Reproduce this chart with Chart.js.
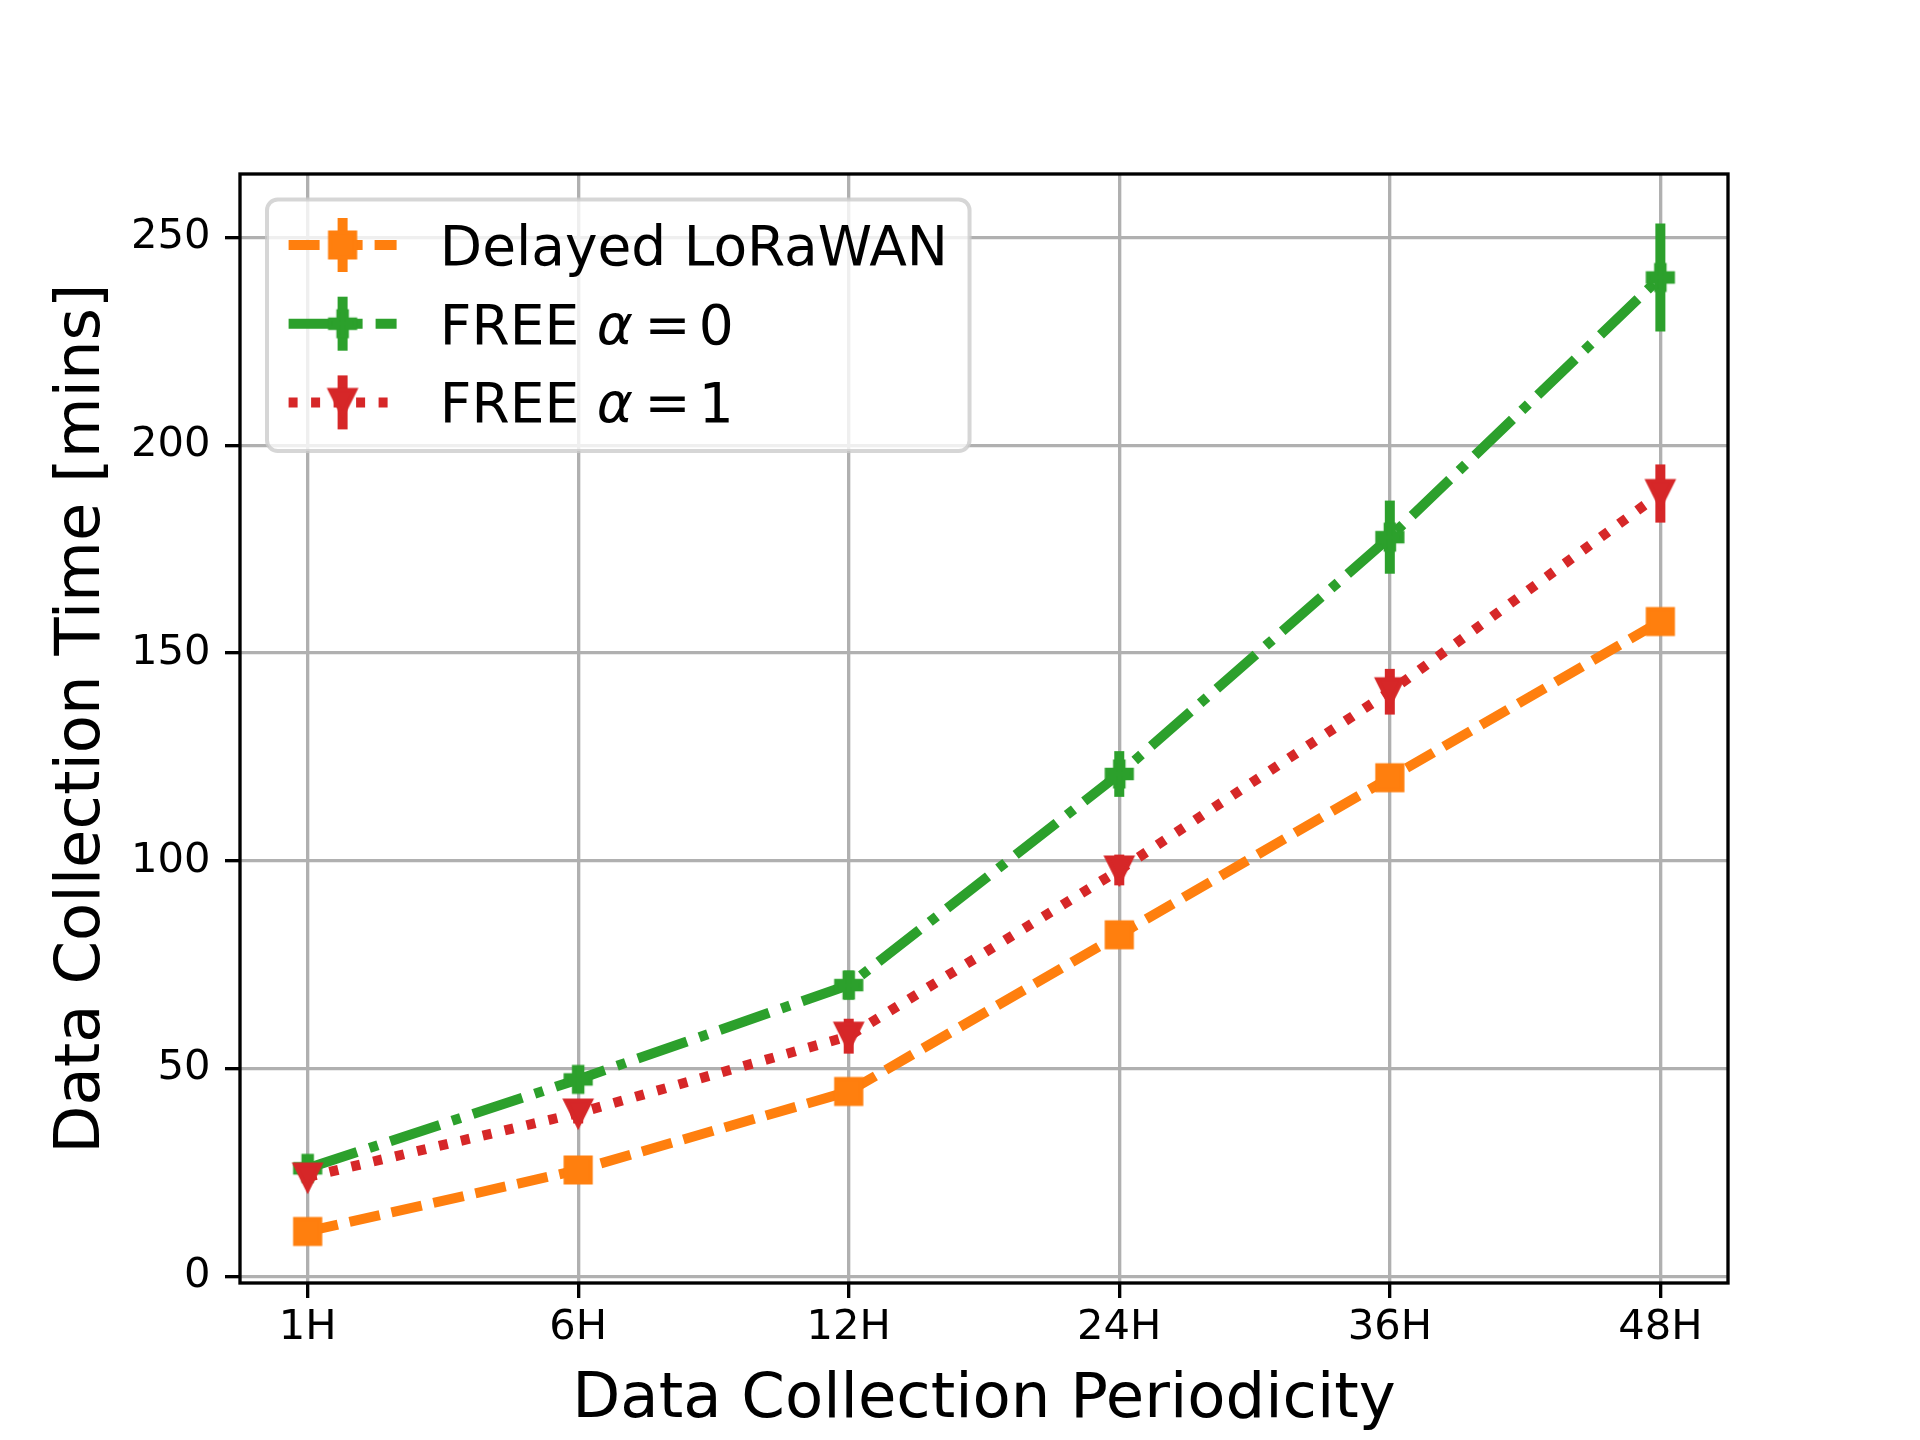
<!DOCTYPE html>
<html>
<head>
<meta charset="utf-8">
<title>Data Collection Time</title>
<script src="https://cdn.jsdelivr.net/npm/chart.js@4.4.0/dist/chart.umd.min.js"></script>
<style>
  html, body { margin: 0; padding: 0; background: #fff; }
  #wrap { width: 1920px; height: 1440px; }
</style>
</head>
<body>
<div id="wrap"><canvas id="chart" width="1920" height="1440"></canvas></div>
<script>
const periods = ["1H", "6H", "12H", "24H", "36H", "48H"];
const yTicks = [0, 50, 100, 150, 200, 250];

const delayedValues = [10.8, 25.6, 44.5, 82.2, 120.0, 157.6];
const delayedErrors = [1.0, 1.5, 2.0, 2.5, 3.0, 3.0];
const freeA0Values = [26.0, 47.4, 70.1, 120.9, 177.9, 240.4];
const freeA0Errors = [2.0, 3.0, 3.5, 5.5, 8.8, 13.0];
const freeA1Values = [23.9, 39.3, 57.8, 97.8, 140.7, 188.4];
const freeA1Errors = [1.5, 2.5, 4.2, 3.7, 5.5, 7.0];

const FONT = "DejaVu Sans";
const ORANGE = "#ff7f0e";
const GREEN = "#2ca02c";
const RED = "#d62728";
const LW = 10;

// matplotlib-like markers (size 25px + 4.17px edge)
function makeMarker(kind, color) {
    const c = document.createElement("canvas");
    c.width = 40;
    c.height = 40;
    const ctx = c.getContext("2d");
    const h = 12.5;
    const a = h / 3;
    ctx.translate(20, 20);
    ctx.beginPath();
    if (kind === "square") {
        ctx.rect(-h, -h, 2 * h, 2 * h);
    } else if (kind === "plus") {
        ctx.moveTo(-a, -h); ctx.lineTo(a, -h); ctx.lineTo(a, -a); ctx.lineTo(h, -a);
        ctx.lineTo(h, a); ctx.lineTo(a, a); ctx.lineTo(a, h); ctx.lineTo(-a, h);
        ctx.lineTo(-a, a); ctx.lineTo(-h, a); ctx.lineTo(-h, -a); ctx.lineTo(-a, -a);
        ctx.closePath();
    } else {
        ctx.moveTo(0, h); ctx.lineTo(-h, -h); ctx.lineTo(h, -h);
        ctx.closePath();
    }
    ctx.fillStyle = color;
    ctx.fill();
    ctx.lineWidth = 4.17;
    ctx.lineJoin = "miter";
    ctx.strokeStyle = color;
    ctx.stroke();
    return c;
}

const toPoints = (vals) => vals.map((v, i) => ({ x: i, y: v }));

const datasets = [
    {
        label: "Delayed LoRaWAN",
        data: toPoints(delayedValues),
        errors: delayedErrors,
        borderColor: ORANGE,
        borderDash: [31, 12],
        pointStyle: makeMarker("square", ORANGE),
        order: 3
    },
    {
        label: "FREE α = 0",
        data: toPoints(freeA0Values),
        errors: freeA0Errors,
        borderColor: GREEN,
        borderDash: [52, 13, 9, 13],
        pointStyle: makeMarker("plus", GREEN),
        order: 2
    },
    {
        label: "FREE α = 1",
        data: toPoints(freeA1Values),
        errors: freeA1Errors,
        borderColor: RED,
        borderDash: [9, 13.5],
        pointStyle: makeMarker("tri", RED),
        order: 1
    }
].map(d => Object.assign({
    borderWidth: LW,
    borderCapStyle: "butt",
    fill: false,
    tension: 0,
    pointRadius: 15,
    pointHoverRadius: 15,
    backgroundColor: d.borderColor
}, d));

// legend text pieces, second/third have an italic alpha
const legendPieces = [
    [{ t: "Delayed LoRaWAN" }],
    [{ t: "FREE " }, { t: "α", it: true }, { t: "=", gap: 0.21 }, { t: "0", gap: 0.15 }],
    [{ t: "FREE " }, { t: "α", it: true }, { t: "=", gap: 0.21 }, { t: "1", gap: 0.15 }]
];

const errorBarPlugin = {
    id: "errorBars",
    beforeDatasetDraw(chart, args) {
        const ds = chart.data.datasets[args.index];
        if (!ds.errors) return;
        const ctx = chart.ctx;
        const yScale = chart.scales.y;
        ctx.save();
        ctx.strokeStyle = ds.borderColor;
        ctx.lineWidth = 10;
        ctx.lineCap = "butt";
        ctx.setLineDash([]);
        args.meta.data.forEach((pt, i) => {
            const v = ds.data[i].y;
            const e = ds.errors[i];
            ctx.beginPath();
            ctx.moveTo(pt.x, yScale.getPixelForValue(v + e));
            ctx.lineTo(pt.x, yScale.getPixelForValue(v - e));
            ctx.stroke();
        });
        ctx.restore();
    }
};

const framePlugin = {
    id: "frame",
    afterDatasetsDraw(chart) {
        const { ctx, chartArea: a } = chart;
        ctx.save();
        ctx.strokeStyle = "#000";
        ctx.lineWidth = 3.33;
        ctx.strokeRect(a.left, a.top, a.right - a.left, a.bottom - a.top);
        ctx.restore();
    }
};

function roundRect(ctx, x, y, w, h, r) {
    ctx.beginPath();
    ctx.moveTo(x + r, y);
    ctx.arcTo(x + w, y, x + w, y + h, r);
    ctx.arcTo(x + w, y + h, x, y + h, r);
    ctx.arcTo(x, y + h, x, y, r);
    ctx.arcTo(x, y, x + w, y, r);
    ctx.closePath();
}

const legendPlugin = {
    id: "mplLegend",
    afterDraw(chart) {
        const { ctx, chartArea: a } = chart;
        const fs = 55;
        const normal = fs + "px '" + FONT + "'";
        const italic = "italic " + fs + "px '" + FONT + "'";
        const left = a.left + 27;
        const top = a.top + 25.5;
        const handleX = left + 21.6;
        const textX = handleX + 108 + 43.2;

        ctx.save();
        // widths of each label
        const widths = legendPieces.map(pieces => {
            let w = 0;
            pieces.forEach(p => {
                ctx.font = p.it ? italic : normal;
                w += (p.gap || 0) * fs + ctx.measureText(p.t).width;
            });
            return w;
        });
        const boxW = textX + Math.max(...widths) + 21.6 - left;
        const boxH = 251.5;

        roundRect(ctx, left, top, boxW, boxH, 10.8);
        ctx.fillStyle = "rgba(255,255,255,0.8)";
        ctx.fill();
        ctx.lineWidth = 4;
        ctx.strokeStyle = "rgba(204,204,204,0.8)";
        ctx.stroke();

        chart.data.datasets.forEach((ds, i) => {
            const cy = top + 45.5 + i * 78.7;
            ctx.save();
            ctx.strokeStyle = ds.borderColor;
            ctx.lineWidth = LW;
            ctx.lineCap = "butt";
            ctx.setLineDash(ds.borderDash);
            ctx.beginPath();
            ctx.moveTo(handleX, cy);
            ctx.lineTo(handleX + 108, cy);
            ctx.stroke();
            ctx.setLineDash([]);
            ctx.lineWidth = 10;
            ctx.beginPath();
            ctx.moveTo(handleX + 54, cy - 27);
            ctx.lineTo(handleX + 54, cy + 27);
            ctx.stroke();
            const m = ds.pointStyle;
            ctx.drawImage(m, handleX + 54 - m.width / 2, cy - m.height / 2);
            ctx.restore();

            let x = textX;
            ctx.fillStyle = "#000";
            ctx.textBaseline = "alphabetic";
            ctx.textAlign = "left";
            legendPieces[i].forEach(p => {
                ctx.font = p.it ? italic : normal;
                x += (p.gap || 0) * fs;
                ctx.fillText(p.t, x, cy + 0.729 * fs / 2);
                x += ctx.measureText(p.t).width;
            });
        });
        ctx.restore();
    }
};

const gridStyle = {
    color: "#b0b0b0",
    lineWidth: 3.33,
    tickLength: 15,
    tickColor: "#000",
    tickWidth: 3.33
};

new Chart(document.getElementById("chart"), {
    type: "line",
    data: { datasets: datasets },
    options: {
        responsive: false,
        animation: false,
        layout: { padding: { top: 174, right: 192, left: 0, bottom: 0 } },
        plugins: {
            legend: { display: false },
            tooltip: { enabled: false }
        },
        scales: {
            x: {
                type: "linear",
                min: -0.25,
                max: 5.25,
                afterBuildTicks: (s) => { s.ticks = periods.map((p, i) => ({ value: i })); },
                afterFit: (s) => { s.height = 157; },
                ticks: {
                    callback: (v) => periods[v],
                    font: { family: FONT, size: 41.67, lineHeight: 1 },
                    color: "#000",
                    padding: 9,
                    maxRotation: 0,
                    autoSkip: false
                },
                grid: gridStyle,
                border: { display: false },
                title: {
                    display: true,
                    text: "Data Collection Periodicity",
                    color: "#000",
                    font: { family: FONT, size: 62.5, lineHeight: 1 },
                    padding: { top: 0, bottom: 8 }
                }
            },
            y: {
                type: "linear",
                min: -1.6,
                max: 265.3,
                afterBuildTicks: (s) => { s.ticks = yTicks.map(v => ({ value: v })); },
                afterFit: (s) => { s.width = 240; },
                ticks: {
                    font: { family: FONT, size: 41.67, lineHeight: 1 },
                    color: "#000",
                    padding: 14.6
                },
                grid: gridStyle,
                border: { display: false },
                title: {
                    display: true,
                    text: " Data Collection Time [mins]",
                    color: "#000",
                    font: { family: FONT, size: 62.5, lineHeight: 1 },
                    padding: { top: 52, bottom: 0 }
                }
            }
        }
    },
    plugins: [errorBarPlugin, framePlugin, legendPlugin]
});
</script>
</body>
</html>
